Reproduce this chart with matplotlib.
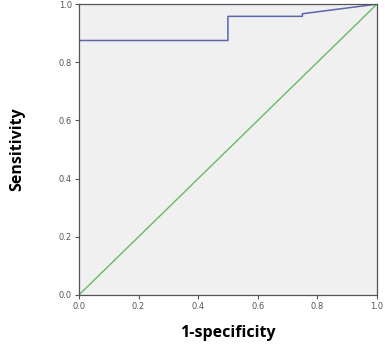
import matplotlib
matplotlib.use("Agg")
from matplotlib import pyplot as plt

# ROC curve points (1-specificity, sensitivity)
fpr = [0.0, 0.0, 0.5, 0.5, 0.75, 0.75, 1.0]
tpr = [0.0, 0.875, 0.875, 0.958, 0.958, 0.967, 1.0]
ref = [0.0, 1.0]
ticks = [0.0, 0.2, 0.4, 0.6, 0.8, 1.0]

fig = plt.figure(figsize=(3.85, 3.45), dpi=100)
ax = fig.add_axes([0.205, 0.145, 0.774, 0.843])
ax.set_facecolor("#f0f0f0")
ax.plot(ref, ref, color="#66bb66", lw=1.0)
ax.plot(fpr, tpr, color="#5868a8", lw=1.1)
ax.set_xlim(0, 1)
ax.set_ylim(0, 1)
ax.set_xticks(ticks)
ax.set_yticks(ticks)
ax.set_xticklabels(["%.1f" % t for t in ticks])
ax.set_yticklabels(["%.1f" % t for t in ticks])
ax.tick_params(labelsize=6, colors="#555555", length=3, width=0.8, pad=2)
for s in ax.spines.values():
    s.set_color("#555555")
    s.set_linewidth(0.9)
ax.set_xlabel("1-specificity", fontsize=11.5, fontweight="bold", family="Open Sans", labelpad=10)
ax.set_ylabel("Sensitivity", fontsize=11.5, fontweight="bold", family="Open Sans", labelpad=24)
fig.savefig("out.png", dpi=100)
